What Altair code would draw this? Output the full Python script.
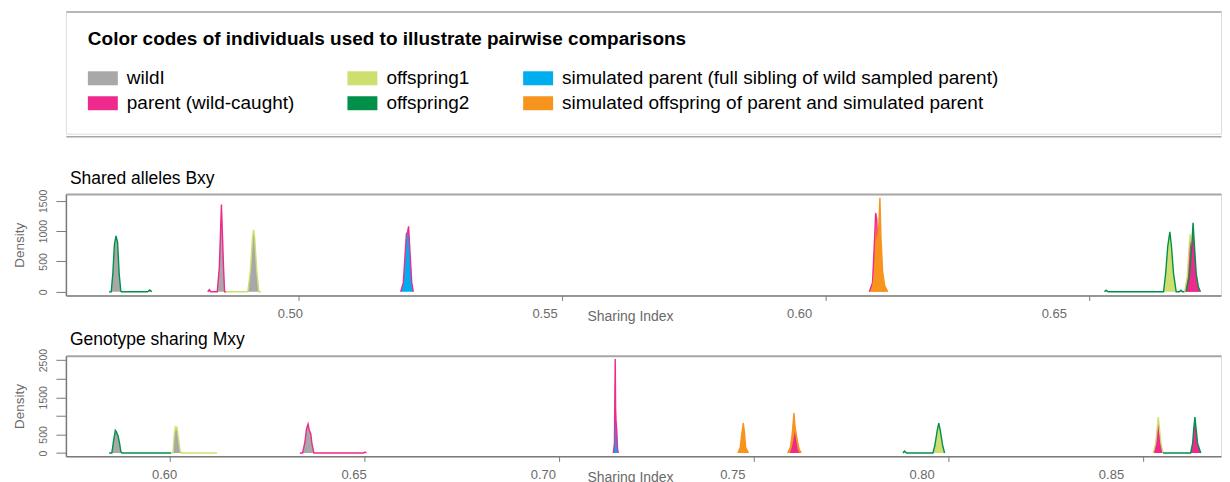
import altair as alt
import pandas as pd

# ---------------- individuals / colours ----------------
W = "wildI"
P = "parent (wild-caught)"
O1 = "offspring1"
O2 = "offspring2"
SP = "simulated parent (full sibling of wild sampled parent)"
SO = "simulated offspring of parent and simulated parent"

legend_order = [W, P, O1, O2, SP, SO]
legend_colors = ["#a8a8a8", "#ee2a8d", "#cfdf6f", "#00904a", "#00aeef", "#f7941e"]

# ---------------- Panel 1: Shared alleles Bxy ----------------
bxy_fill = [W, W, W, SP, SO, SO, O1, P, P]
bxy_border = [O2, P, O1, P, P, SO, O2, O1, O2]

bxy_a_x = [0.4641, 0.4645, 0.4648, 0.4651, 0.4654, 0.4657, 0.4660, 0.4663, 0.4664, 0.4714, 0.4718, 0.4722]
bxy_a_y = [0, 0, 300, 780, 920, 820, 300, 20, 0, 0, 30, 0]
bxy_b_x = [0.4828, 0.4831, 0.4834, 0.4846, 0.4850, 0.4854, 0.4858, 0.4860, 0.4864]
bxy_b_y = [0, 35, 0, 0, 400, 1440, 400, 0, 0]
bxy_c_x = [0.4862, 0.4904, 0.4909, 0.4913, 0.4915, 0.4917, 0.4921, 0.4925, 0.4929]
bxy_c_y = [0, 0, 350, 900, 1020, 900, 350, 0, 0]
bxy_d_x = [0.5194, 0.5199, 0.5203, 0.5205, 0.5207, 0.5209, 0.5212, 0.5215, 0.5218]
bxy_d_y = [0, 150, 700, 960, 980, 1080, 600, 150, 0]
bxy_e1_x = [0.6083, 0.6089, 0.6092, 0.6095, 0.6097, 0.6100, 0.6105, 0.6112]
bxy_e1_y = [0, 150, 700, 1300, 1200, 500, 100, 0]
bxy_e2_x = [0.6088, 0.6093, 0.6098, 0.6101, 0.6103, 0.6105, 0.6108, 0.6112, 0.6118]
bxy_e2_y = [0, 300, 800, 1100, 1550, 900, 350, 100, 0]
bxy_f1_x = [0.6529, 0.6532, 0.6536, 0.6641, 0.6645, 0.6649, 0.6653, 0.6656, 0.6660, 0.6665, 0.6671, 0.6674, 0.6677, 0.6681]
bxy_f1_y = [0, 25, 0, 0, 300, 750, 990, 750, 300, 0, 0, 25, 0, 0]
bxy_f2_x = [0.6681, 0.6686, 0.6690, 0.6692, 0.6695, 0.6699, 0.6705, 0.6709]
bxy_f2_y = [0, 250, 800, 950, 700, 250, 50, 0]
bxy_f3_x = [0.6684, 0.6690, 0.6695, 0.6697, 0.6699, 0.6703, 0.6707, 0.6711]
bxy_f3_y = [0, 250, 800, 1140, 850, 300, 80, 0]

bxy_xs = [bxy_a_x, bxy_b_x, bxy_c_x, bxy_d_x, bxy_e1_x, bxy_e2_x, bxy_f1_x, bxy_f2_x, bxy_f3_x]
bxy_ys = [bxy_a_y, bxy_b_y, bxy_c_y, bxy_d_y, bxy_e1_y, bxy_e2_y, bxy_f1_y, bxy_f2_y, bxy_f3_y]

# ---------------- Panel 2: Genotype sharing Mxy ----------------
mxy_fill = [W, W, W, SP, SO, SO, P, O1, P, P]
mxy_border = [O2, O1, P, P, SO, SO, SO, O2, O1, O2]

mxy_a_x = [0.5844, 0.5851, 0.5855, 0.5860, 0.5863, 0.5867, 0.5871, 0.5874, 0.5877, 0.6003]
mxy_a_y = [0, 0, 300, 608, 560, 460, 250, 40, 0, 0]
mxy_b_x = [0.6003, 0.6008, 0.6011, 0.6014, 0.6016, 0.6018, 0.6022, 0.6026, 0.6029, 0.6121]
mxy_b_y = [0, 0, 450, 690, 650, 710, 400, 80, 0, 0]
mxy_c_x = [0.6334, 0.6341, 0.6347, 0.6351, 0.6355, 0.6358, 0.6362, 0.6365, 0.6370, 0.6497, 0.6501, 0.6505]
mxy_c_y = [0, 0, 300, 650, 780, 620, 510, 250, 0, 0, 25, 0]
mxy_d_x = [0.7139, 0.7142, 0.7143, 0.7144, 0.7145, 0.7146, 0.7148, 0.7150, 0.7152]
mxy_d_y = [0, 250, 1500, 2530, 1200, 880, 600, 100, 0]
mxy_e_x = [0.7459, 0.7465, 0.7469, 0.7473, 0.7476, 0.7479, 0.7486]
mxy_e_y = [0, 150, 500, 806, 550, 150, 0]
mxy_f1_x = [0.7587, 0.7594, 0.7599, 0.7603, 0.7606, 0.7612, 0.7617, 0.7622]
mxy_f1_y = [0, 150, 550, 1075, 700, 300, 80, 0]
mxy_f2_x = [0.7591, 0.7597, 0.7603, 0.7605, 0.7609, 0.7614, 0.7619]
mxy_f2_y = [0, 200, 550, 680, 450, 120, 0]
mxy_g_x = [0.7883, 0.7887, 0.7892, 0.7960, 0.7965, 0.7971, 0.7975, 0.7979, 0.7985, 0.7990]
mxy_g_y = [0, 50, 0, 0, 200, 600, 806, 600, 200, 0]
mxy_h1_x = [0.8526, 0.8532, 0.8536, 0.8539, 0.8542, 0.8546, 0.8551]
mxy_h1_y = [0, 250, 650, 970, 650, 250, 0]
mxy_h2_x = [0.8551, 0.8622, 0.8627, 0.8630, 0.8633, 0.8636, 0.8640, 0.8648]
mxy_h2_y = [0, 0, 250, 650, 970, 650, 250, 0]

mxy_xs = [mxy_a_x, mxy_b_x, mxy_c_x, mxy_d_x, mxy_e_x, mxy_f1_x, mxy_f2_x, mxy_g_x, mxy_h1_x, mxy_h2_x]
mxy_ys = [mxy_a_y, mxy_b_y, mxy_c_y, mxy_d_y, mxy_e_y, mxy_f1_y, mxy_f2_y, mxy_g_y, mxy_h1_y, mxy_h2_y]

# axis ticks
bxy_xticks = [0.50, 0.55, 0.60, 0.65]
bxy_yticks = [0, 500, 1000, 1500]
mxy_xticks = [0.60, 0.65, 0.70, 0.75, 0.80, 0.85]
mxy_yticks = [0, 500, 1000, 1500, 2000, 2500]

# ---------------- styling ----------------
FONT = "Liberation Sans"
AX_GRAY = "#7a7a7a"
TXT_GRAY = "#6a6a6a"
BOX_GRAY = "#a6a6a6"
PLOT_W = 1157

color_scale = alt.Scale(domain=legend_order, range=legend_colors)

legend = alt.Legend(
    title="Color codes of individuals used to illustrate pairwise comparisons",
    orient="none", legendX=22, legendY=18.5,
    columns=3, columnPadding=53, rowPadding=0,
    symbolType="M-1,-0.467H1V0.467H-1Z", symbolSize=900, symbolStrokeWidth=0,
    symbolOpacity=1,
    labelFont=FONT, labelFontSize=19, labelColor="black", labelOffset=9, labelLimit=800,
    titleFont=FONT, titleFontSize=19, titleFontWeight="bold", titleColor="black",
    titlePadding=14.5, titleLimit=1000, padding=0,
)


def make_panel(title, fills, borders, xs_list, ys_list, xdom, ydom, xticks, yticks,
               ylabel_expr, xoff_expr, height, title_dy):
    rows = []
    for cid, (f, b, xs, ys) in enumerate(zip(fills, borders, xs_list, ys_list)):
        for x, y in zip(xs, ys):
            rows.append({"cid": cid, "fill": f, "border": b, "x": x, "y": y})
    df = pd.DataFrame(rows)

    xscale = alt.Scale(domain=xdom, nice=False, zero=False)
    yscale = alt.Scale(domain=ydom, nice=False, zero=False)

    top_axis = alt.Axis(orient="top", labels=False, ticks=False, title=None, grid=False,
                        domainColor=BOX_GRAY, domainWidth=2)
    bottom_axis = alt.Axis(
        orient="bottom", values=xticks, format=".2f", grid=False,
        tickSize=5, tickColor=AX_GRAY, tickWidth=1,
        domainColor=AX_GRAY, domainWidth=1.5,
        labelFont=FONT, labelFontSize=13, labelColor=TXT_GRAY, labelPadding=7,
        labelFlush=False, labelOverlap=False,
        labelOffset={"expr": xoff_expr},
        title="Sharing Index", titleFont=FONT, titleFontSize=14, titleFontWeight="normal",
        titleColor=TXT_GRAY, titleX=565, titleY=25.5, titleBaseline="alphabetic",
        titleAlign="center",
    )
    y_axis = alt.Axis(
        values=yticks, format="d", grid=False, tickSize=10, tickColor=AX_GRAY, tickWidth=1,
        domainColor=AX_GRAY, domainWidth=1.5,
        labelFont=FONT, labelFontSize=10.5, labelColor=TXT_GRAY, labelAngle=270,
        labelAlign="center", labelBaseline="middle", labelPadding=12,
        labelFlush=False, labelOverlap=False, labelExpr=ylabel_expr,
        title="Density", titleFont=FONT, titleFontSize=13.5, titleFontWeight="normal",
        titleColor=TXT_GRAY, titleX=-46, titleBaseline="middle",
    )

    base = alt.Chart(df)
    layers = []
    for cid in range(len(fills)):
        sub = base.transform_filter(alt.datum.cid == cid)
        area = sub.mark_area(opacity=1).encode(
            x=alt.X("x:Q", scale=xscale, axis=top_axis if cid == 0 else None),
            y=alt.Y("y:Q", scale=yscale, axis=y_axis, stack=None),
            y2=alt.datum(0),
            fill=alt.Fill("fill:N", scale=color_scale, legend=legend),
        )
        line = sub.mark_line(strokeWidth=1.4).encode(
            x=alt.X("x:Q", scale=xscale, axis=bottom_axis if cid == 0 else None),
            y=alt.Y("y:Q", scale=yscale, axis=y_axis, stack=None),
            stroke=alt.Stroke("border:N", scale=color_scale, legend=None),
        )
        layers += [area, line]
    return alt.layer(*layers).resolve_axis(x="independent").properties(
        width=PLOT_W, height=height,
        title=alt.TitleParams(title, anchor="start", frame="group", fontSize=17.5,
                              fontWeight="normal", color="black", font=FONT,
                              dx=4, dy=title_dy, offset=9, baseline="alphabetic"),
    )


panel1 = make_panel("Shared alleles Bxy", bxy_fill, bxy_border, bxy_xs, bxy_ys,
                    [0.4559, 0.6750], [-61, 1612], bxy_xticks, bxy_yticks,
                    "datum.label", "-8.5 - (datum.value - 0.5) * 180", 101.5, 21)
panel2 = make_panel("Genotype sharing Mxy", mxy_fill, mxy_border, mxy_xs, mxy_ys,
                    [0.5733, 0.8700], [-91, 2616], mxy_xticks, mxy_yticks,
                    "datum.value == 1000 || datum.value == 2000 ? '' : datum.label",
                    "-5.7 - (datum.value - 0.6) * 106", 100.7, 23.5)

# ---------------- legend frame ----------------
frame_df = pd.DataFrame({"u": [0.5]})
frame_base = alt.Chart(frame_df)
frame_top = frame_base.mark_point(opacity=0, size=1).encode(
    x=alt.X("u:Q", scale=alt.Scale(domain=[0, 1]),
            axis=alt.Axis(orient="top", labels=False, ticks=False, title=None, grid=False,
                          domainColor=BOX_GRAY, domainWidth=1.5)),
    y=alt.Y("u:Q", scale=alt.Scale(domain=[0, 1]),
            axis=alt.Axis(labels=False, ticks=False, title=None, grid=False,
                          domainColor=BOX_GRAY, domainWidth=1.5)),
)
frame_bottom = frame_base.mark_point(opacity=0, size=1).encode(
    x=alt.X("u:Q", scale=alt.Scale(domain=[0, 1]),
            axis=alt.Axis(orient="bottom", labels=False, ticks=False, title=None, grid=False,
                          domainColor=BOX_GRAY, domainWidth=1.5, offset=2.5)),
    y=alt.Y("u:Q", scale=alt.Scale(domain=[0, 1]), axis=None),
)
frame = alt.layer(frame_top, frame_bottom).resolve_axis(x="independent").properties(
    width=PLOT_W, height=122.5)

chart = alt.vconcat(frame, panel1, panel2, spacing=60, bounds="flush").properties(
    padding={"left": 4, "top": 2, "right": 0, "bottom": 0}
).configure_view(stroke=None).configure(font=FONT)

chart.save("out.html", embed_options={"renderer": "svg", "actions": False})
